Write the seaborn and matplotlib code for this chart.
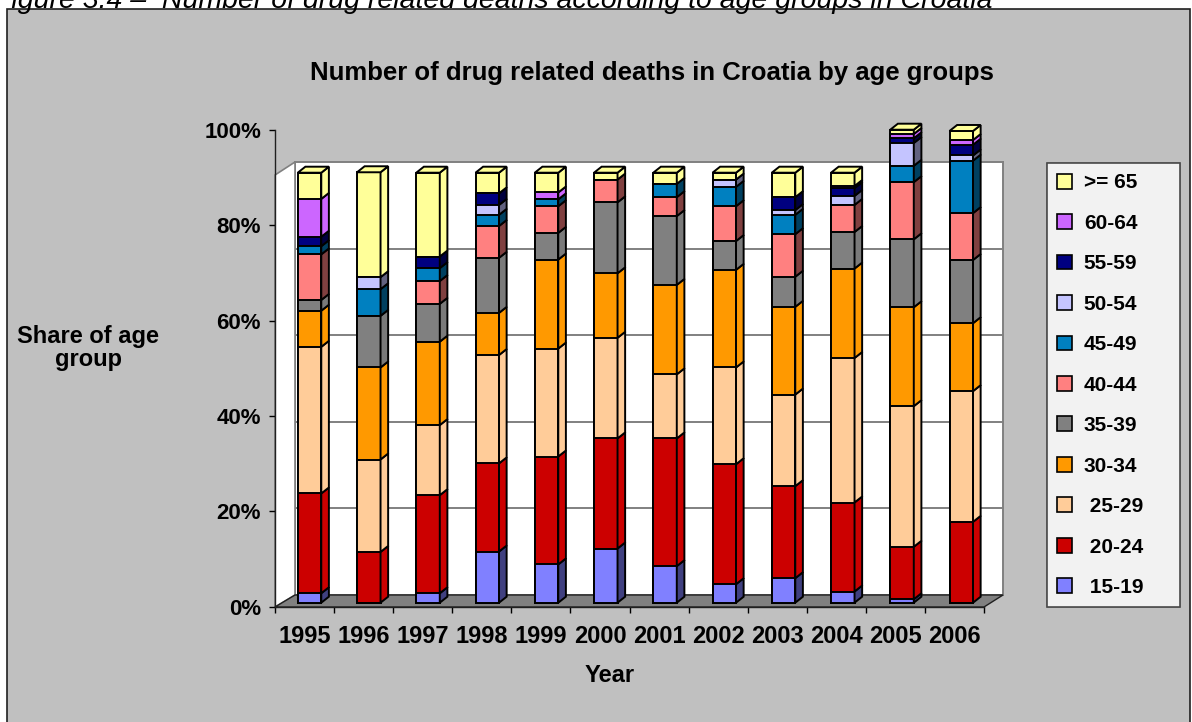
import numpy as np
import pandas as pd
import matplotlib
matplotlib.use("Agg")
import matplotlib.pyplot as plt
from matplotlib.patches import Polygon, Rectangle, Patch
import seaborn as sns

# ---------------------------------------------------------------- data
years = ["1995", "1996", "1997", "1998", "1999", "2000",
         "2001", "2002", "2003", "2004", "2005", "2006"]
age_groups = ["15-19", "20-24", "25-29", "30-34", "35-39", "40-44",
              "45-49", "50-54", "55-59", "60-64", ">= 65"]
legend_labels = [" 15-19", " 20-24", " 25-29", "30-34", "35-39", "40-44",
                 "45-49", "50-54", "55-59", "60-64", ">= 65"]

# share of deaths (%) per age group and year
share_15_19 = [2.2, 0.0, 2.2, 11.9, 8.9, 12.6, 8.5, 4.3, 5.7, 2.6, 0.8, 0.0]
share_20_24 = [23.2, 11.8, 22.8, 20.5, 25.1, 25.6, 29.7, 27.9, 21.4, 20.7, 12.2, 18.8]
share_25_29 = [34.1, 21.5, 16.3, 25.2, 25.1, 23.4, 14.9, 22.5, 21.3, 33.6, 32.7, 30.4]
share_30_34 = [8.4, 21.4, 19.4, 9.8, 20.7, 15.0, 20.8, 22.7, 20.4, 20.8, 23.0, 15.8]
share_35_39 = [2.5, 12.0, 8.8, 12.8, 6.2, 16.5, 16.0, 6.7, 7.0, 8.5, 15.8, 14.7]
share_40_44 = [10.6, 0.0, 5.3, 7.4, 6.2, 5.3, 4.4, 8.1, 9.9, 6.3, 13.3, 10.9]
share_45_49 = [1.9, 6.2, 3.0, 2.6, 1.6, 0.0, 3.1, 4.5, 4.5, 0.0, 3.8, 12.2]
share_50_54 = [0.0, 2.8, 0.0, 2.3, 0.0, 0.0, 0.0, 1.7, 1.1, 2.1, 5.3, 1.2]
share_55_59 = [2.2, 0.0, 2.7, 2.7, 0.0, 0.0, 0.0, 0.0, 3.0, 1.8, 1.1, 2.5]
share_60_64 = [8.8, 0.0, 0.0, 0.0, 1.6, 0.0, 0.0, 0.0, 0.0, 0.5, 1.0, 1.1]
share_65_up = [6.1, 24.4, 19.5, 4.8, 4.6, 1.6, 2.6, 1.6, 5.7, 3.1, 1.0, 2.1]

shares = [share_15_19, share_20_24, share_25_29, share_30_34, share_35_39,
          share_40_44, share_45_49, share_50_54, share_55_59, share_60_64,
          share_65_up]

y_ticks = [0, 20, 40, 60, 80, 100]
y_tick_labels = ["0%", "20%", "40%", "60%", "80%", "100%"]

# ---------------------------------------------------------------- style
face_colors = ["#8080FF", "#CC0000", "#FFCC99", "#FF9900", "#808080", "#FF8080",
               "#0080C0", "#C4C4FF", "#000080", "#CC66FF", "#FFFF99"]
side_colors = ["#404080", "#CC0000", "#FFCC99", "#FF9900", "#7A7A7A", "#804040",
               "#004060", "#626280", "#000040", "#CC66FF", "#FFFF99"]

plt.rcParams["font.family"] = ["Liberation Sans", "DejaVu Sans"]
plt.rcParams["font.weight"] = "bold"

W, H = 1192, 722
fig = plt.figure(figsize=(W / 100, H / 100), dpi=100)
fig.patch.set_facecolor("white")


def box(x0, y_top, x1, y_bot):
    """Figure-fraction rectangle from pixel edges (y measured from top)."""
    return [x0 / W, 1 - y_bot / H, (x1 - x0) / W, (y_bot - y_top) / H]


def pts(xy):
    return [(x / W, 1 - y / H) for x, y in xy]


# chart area
fig.add_artist(Rectangle((7 / W, -0.02), 1183 / W, 1 - 9 / H + 0.02,
                         transform=fig.transFigure, facecolor="#C0C0C0",
                         edgecolor="#202020", linewidth=1.2, zorder=-5))

# caption above the chart area
fig.text(-6 / W, 1 - 8 / H,
         "Figure 3.4 \u2013  Number of drug related deaths according to age groups in Croatia",
         fontsize=20.5, fontstyle="italic", fontweight="normal",
         ha="left", va="baseline", zorder=10)

# ---------------------------------------------------------------- 3-D frame
# back wall with gridlines
ax_wall = fig.add_axes(box(295, 162, 1003, 595))
ax_wall.set_zorder(1)
ax_wall.set_facecolor("white")
ax_wall.set_xlim(0, 1)
ax_wall.set_ylim(0, 100)
for v in y_ticks[1:-1]:
    ax_wall.axhline(v, color="#808080", linewidth=1.4)
ax_wall.set_xticks([])
ax_wall.set_yticks([])
for s in ax_wall.spines.values():
    s.set_color("#808080")
    s.set_linewidth(1.4)

# side wall and floor
fig.add_artist(Polygon(pts([(275, 175), (295, 162), (295, 595), (275, 607)]),
                       closed=True, transform=fig.transFigure,
                       facecolor="white", edgecolor="#808080", linewidth=1.2, zorder=2))
fig.add_artist(Polygon(pts([(275, 607), (984, 607), (1003, 595), (295, 595)]),
                       closed=True, transform=fig.transFigure,
                       facecolor="#808080", edgecolor="#202020", linewidth=1.0, zorder=2))

# ---------------------------------------------------------------- bars
ax_bar = fig.add_axes(box(279.9, 172.7, 990.9, 602.7))
ax_bar.set_zorder(3)
ax_bar.patch.set_alpha(0)

bar_width = 0.397
df = pd.DataFrame({"year": years})
cum = np.zeros(len(years))
for g, vals in zip(age_groups, shares):
    cum = cum + np.array(vals)
    df[g] = cum.copy()

# cumulative totals painted from the tallest down give the stacked front faces
for g, fc in reversed(list(zip(age_groups, face_colors))):
    sns.barplot(data=df, x="year", y=g, color=fc, saturation=1, width=bar_width,
                errorbar=None, edgecolor="black", linewidth=1.4, ax=ax_bar,
                clip_on=False)

# depth of the columns (side faces and top caps)
dx = 7.6 / 59.25
dy = 6.0 / 4.298
half = bar_width / 2
for i in range(len(years)):
    base = 0.0
    top_color = face_colors[0]
    for vals, fc, sc in zip(shares, face_colors, side_colors):
        v = vals[i]
        if v <= 0:
            continue
        top = base + v
        xr = i + half
        ax_bar.add_patch(Polygon([(xr, base), (xr + dx, base + dy),
                                  (xr + dx, top + dy), (xr, top)],
                                 closed=True, facecolor=sc, edgecolor="black",
                                 linewidth=1.4, clip_on=False, zorder=3))
        base = top
        top_color = fc
    ax_bar.add_patch(Polygon([(i - half, base), (i + half, base),
                              (i + half + dx, base + dy), (i - half + dx, base + dy)],
                             closed=True, facecolor=top_color, edgecolor="black",
                             linewidth=1.4, clip_on=False, zorder=3))

ax_bar.set_xlim(-0.5, len(years) - 0.5)
ax_bar.set_ylim(0, 100)
ax_bar.axis("off")

# ---------------------------------------------------------------- front axes
ax = fig.add_axes(box(275, 130, 984, 606.7))
ax.set_zorder(4)
ax.patch.set_alpha(0)
ax.set_xlim(-0.5, len(years) - 0.5)
ax.set_ylim(0, 100)
for side in ("top", "right"):
    ax.spines[side].set_visible(False)
for side in ("left", "bottom"):
    ax.spines[side].set_color("#202020")
    ax.spines[side].set_linewidth(1.0)
ax.set_yticks(y_ticks)
ax.set_yticklabels(y_tick_labels)
ax.set_xticks(range(len(years)))
ax.set_xticklabels(years)
ax.set_xticks(np.arange(-0.5, len(years), 1.0), minor=True)
ax.tick_params(axis="y", direction="out", length=4, width=1, pad=6,
               labelsize=16, colors="black")
ax.tick_params(axis="x", which="major", length=0, pad=13, labelsize=17)
ax.tick_params(axis="x", which="minor", direction="out", length=4, width=1)
for lab in ax.get_xticklabels() + ax.get_yticklabels():
    lab.set_fontweight("bold")

# ---------------------------------------------------------------- texts
fig.text(652 / W, 1 - 73 / H, "Number of drug related deaths in Croatia by age groups",
         fontsize=18.5, fontweight="bold", ha="center", va="center")
fig.text(88 / W, 1 - 348 / H, "Share of age\ngroup", fontsize=17, fontweight="bold",
         ha="center", va="center", linespacing=1.0)
fig.text(610 / W, 1 - 675 / H, "Year", fontsize=17, fontweight="bold",
         ha="center", va="center")

# ---------------------------------------------------------------- legend
handles = [Patch(facecolor=fc, edgecolor="black", linewidth=1.2) for fc in face_colors]
leg = fig.legend(handles[::-1], legend_labels[::-1], loc="upper left",
                 bbox_to_anchor=(1047 / W, 1 - 163 / H, 133 / W, 0.0),
                 mode="expand", frameon=True, fancybox=False,
                 prop={"size": 15, "weight": "bold"},
                 handlelength=0.72, handleheight=0.72, handletextpad=0.55,
                 labelspacing=1.03, borderpad=0.5, borderaxespad=0.0)
leg.get_frame().set_edgecolor("#202020")
leg.get_frame().set_linewidth(1.2)
leg.set_zorder(6)

fig.savefig("out.png", dpi=100)
